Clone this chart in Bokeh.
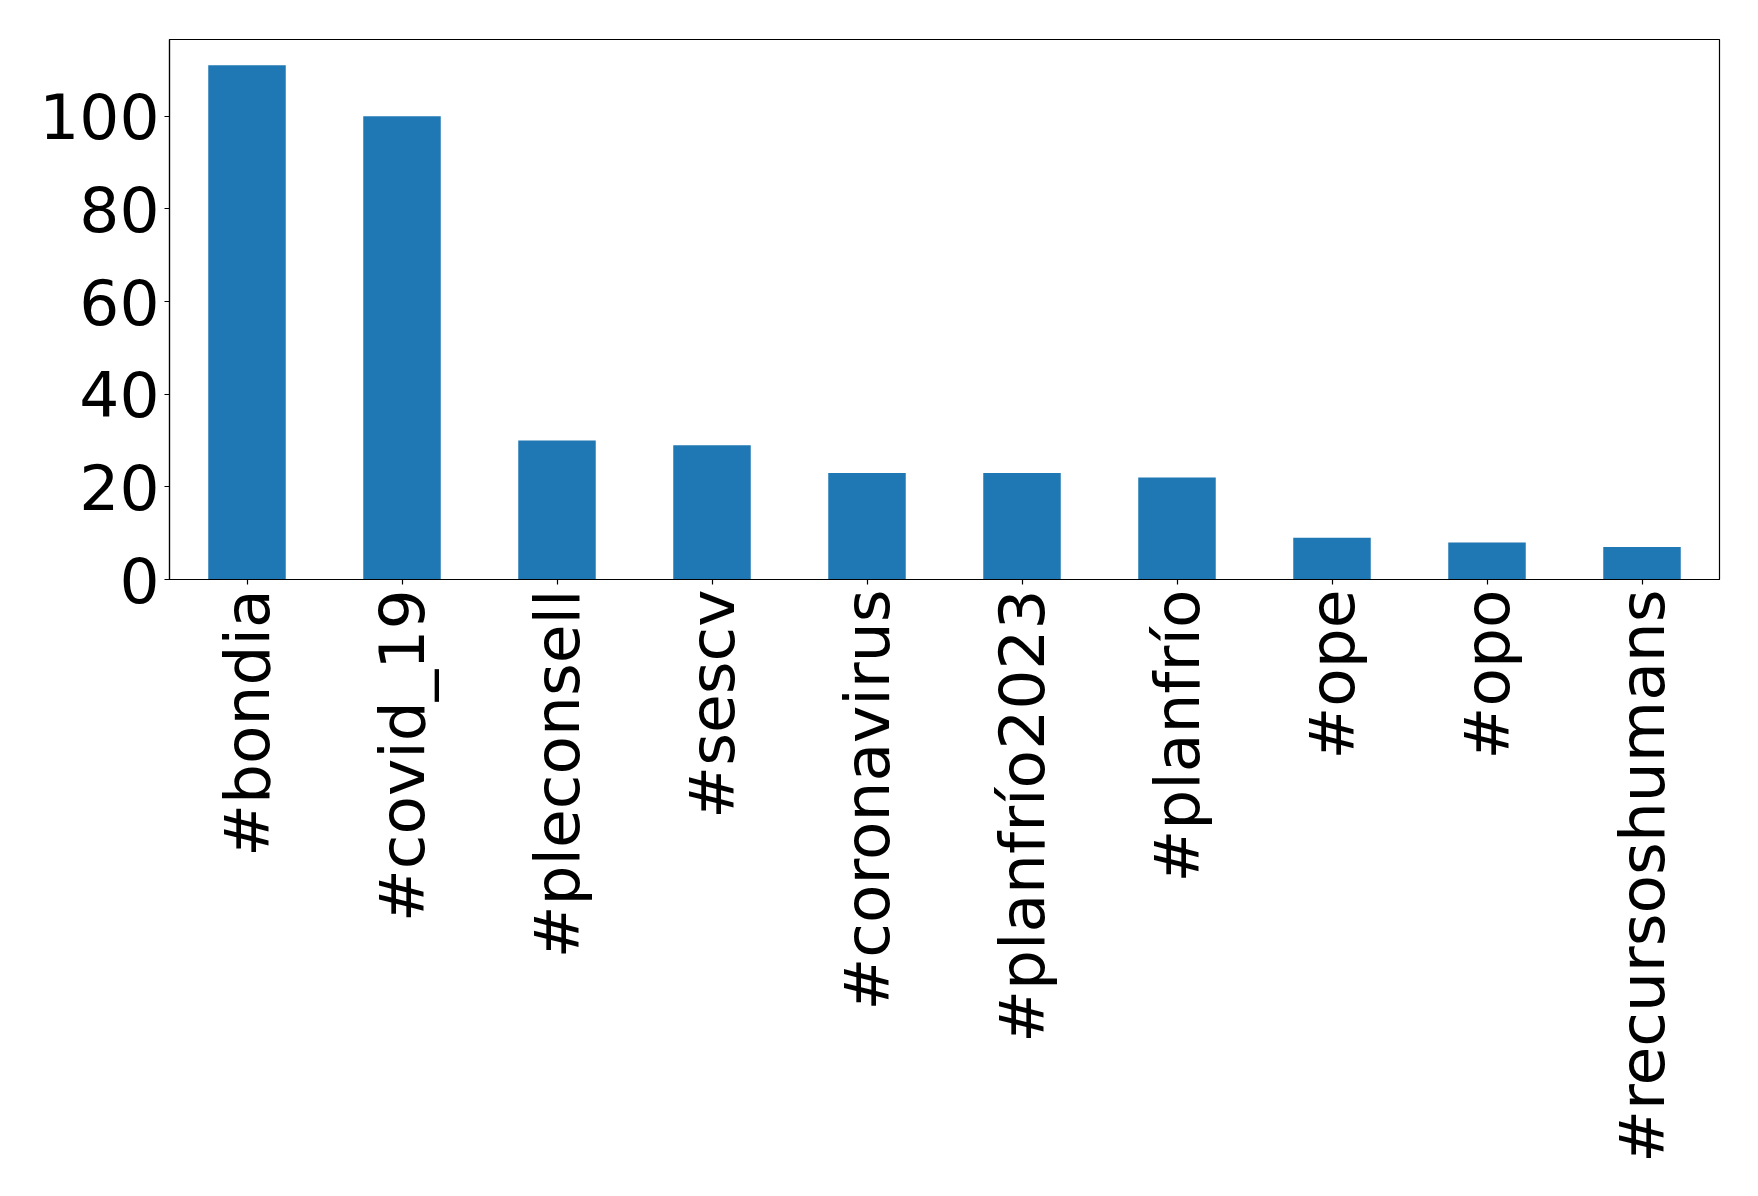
import math
from bokeh.plotting import figure
from bokeh.models import FactorRange, Range1d, FixedTicker, ColumnDataSource
from bokeh.embed import file_html
from bokeh.resources import INLINE

hashtags = ["#bondia", "#covid_19", "#pleconsell", "#sescv", "#coronavirus",
            "#planfrío2023", "#planfrío", "#ope", "#opo", "#recursoshumans"]
counts = [111, 100, 30, 29, 23, 23, 22, 9, 8, 7]
y_ticks = [0, 20, 40, 60, 80, 100]

src = ColumnDataSource(dict(tag=hashtags, count=counts))

p = figure(width=1742, height=1180, output_backend="svg", toolbar_location=None,
           x_range=FactorRange(factors=hashtags, range_padding=0),
           y_range=Range1d(0, max(counts) * 1.05),
           min_border_left=169, min_border_right=23, min_border_top=39, min_border_bottom=601)

p.vbar(x="tag", top="count", width=0.5, source=src, fill_color="#1f77b4", line_color=None)

p.xgrid.visible = False
p.ygrid.visible = False
p.outline_line_color = "black"
p.outline_line_width = 1.2
p.background_fill_color = "white"
p.border_fill_color = "white"

for ax in (p.xaxis[0], p.yaxis[0]):
    ax.major_label_text_font = "DejaVu Sans"
    ax.major_label_text_font_size = "63px"
    ax.major_label_text_color = "black"
    ax.axis_line_color = "black"
    ax.axis_line_width = 1.2
    ax.major_tick_line_color = "black"
    ax.major_tick_line_width = 1.2
    ax.major_tick_in = 0
    ax.major_tick_out = 5
    ax.minor_tick_line_color = None
    ax.major_label_standoff = 5

p.yaxis[0].ticker = FixedTicker(ticks=y_ticks)
p.xaxis[0].major_label_orientation = math.pi / 2

open("out.html", "w").write(file_html(p, INLINE))
